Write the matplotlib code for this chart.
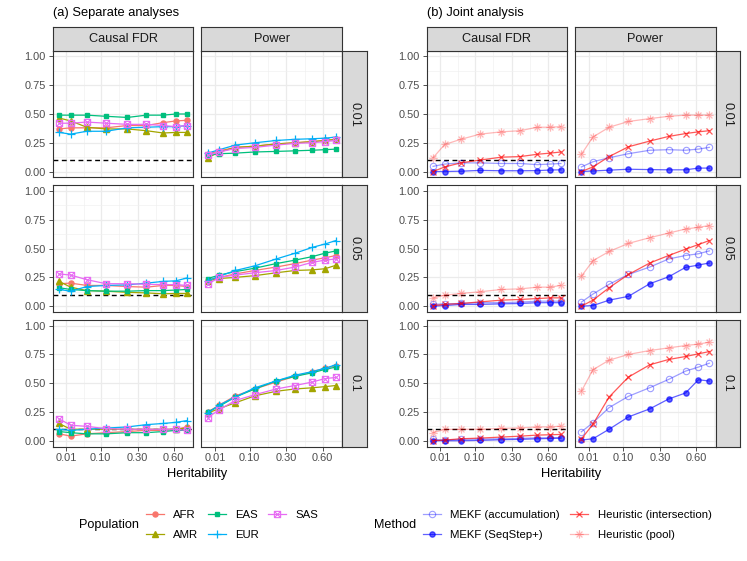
import numpy as np
import matplotlib
matplotlib.use("Agg")
import matplotlib.pyplot as plt
from matplotlib.path import Path
from matplotlib.lines import Line2D

plt.rcParams['font.family'] = ['Liberation Sans', 'DejaVu Sans']

W, H = 747, 561

# x values (heritability) and axis labels
heritability = [0.0029, 0.016, 0.052, 0.122, 0.234, 0.363, 0.502, 0.623, 0.736]
x_ticks = [0.01, 0.10, 0.30, 0.60]
x_tick_labels = ["0.01", "0.10", "0.30", "0.60"]
y_ticks = [0.0, 0.25, 0.5, 0.75, 1.0]
y_tick_labels = ["0.00", "0.25", "0.50", "0.75", "1.00"]
row_labels = ["0.01", "0.05", "0.1"]
col_labels = ["Causal FDR", "Power"]
populations = ["AFR", "AMR", "EAS", "EUR", "SAS"]
methods = ["MEKF (accumulation)", "MEKF (SeqStep+)",
           "Heuristic (intersection)", "Heuristic (pool)"]
fdr_target = 0.1

# (a) separate analyses
sep_fdr_001 = {
    "AFR": [0.37, 0.38, 0.38, 0.38, 0.40, 0.40, 0.425, 0.44, 0.445],
    "AMR": [0.465, 0.44, 0.385, 0.37, 0.37, 0.355, 0.335, 0.34, 0.34],
    "EAS": [0.49, 0.49, 0.49, 0.48, 0.47, 0.49, 0.49, 0.50, 0.50],
    "EUR": [0.34, 0.325, 0.35, 0.35, 0.38, 0.385, 0.39, 0.39, 0.40],
    "SAS": [0.42, 0.42, 0.43, 0.42, 0.41, 0.41, 0.40, 0.39, 0.40],
}
sep_pow_001 = {
    "AFR": [0.15, 0.18, 0.21, 0.22, 0.24, 0.25, 0.26, 0.27, 0.28],
    "AMR": [0.12, 0.17, 0.21, 0.22, 0.24, 0.25, 0.26, 0.27, 0.28],
    "EAS": [0.14, 0.155, 0.16, 0.17, 0.175, 0.18, 0.185, 0.19, 0.195],
    "EUR": [0.16, 0.19, 0.23, 0.25, 0.27, 0.28, 0.285, 0.29, 0.30],
    "SAS": [0.14, 0.17, 0.20, 0.21, 0.23, 0.245, 0.25, 0.26, 0.27],
}
sep_fdr_005 = {
    "AFR": [0.195, 0.20, 0.18, 0.18, 0.17, 0.165, 0.18, 0.18, 0.17],
    "AMR": [0.215, 0.165, 0.135, 0.13, 0.12, 0.115, 0.107, 0.11, 0.11],
    "EAS": [0.16, 0.145, 0.135, 0.13, 0.13, 0.135, 0.135, 0.14, 0.145],
    "EUR": [0.145, 0.13, 0.17, 0.18, 0.185, 0.20, 0.215, 0.22, 0.245],
    "SAS": [0.28, 0.27, 0.23, 0.195, 0.195, 0.19, 0.187, 0.187, 0.18],
}
sep_pow_005 = {
    "AFR": [0.23, 0.25, 0.28, 0.31, 0.34, 0.37, 0.40, 0.42, 0.44],
    "AMR": [0.22, 0.24, 0.25, 0.265, 0.29, 0.31, 0.315, 0.325, 0.355],
    "EAS": [0.24, 0.27, 0.30, 0.33, 0.37, 0.40, 0.43, 0.46, 0.48],
    "EUR": [0.22, 0.26, 0.31, 0.35, 0.41, 0.46, 0.51, 0.54, 0.57],
    "SAS": [0.19, 0.25, 0.27, 0.29, 0.31, 0.34, 0.38, 0.40, 0.41],
}
sep_fdr_01 = {
    "AFR": [0.06, 0.04, 0.06, 0.07, 0.08, 0.09, 0.09, 0.10, 0.12],
    "AMR": [0.15, 0.10, 0.10, 0.10, 0.10, 0.10, 0.10, 0.10, 0.11],
    "EAS": [0.08, 0.07, 0.06, 0.06, 0.07, 0.07, 0.08, 0.09, 0.09],
    "EUR": [0.10, 0.09, 0.10, 0.11, 0.12, 0.14, 0.15, 0.16, 0.175],
    "SAS": [0.19, 0.135, 0.125, 0.105, 0.10, 0.10, 0.10, 0.10, 0.09],
}
sep_pow_01 = {
    "AFR": [0.25, 0.31, 0.39, 0.45, 0.51, 0.56, 0.60, 0.63, 0.65],
    "AMR": [0.24, 0.28, 0.33, 0.39, 0.43, 0.45, 0.46, 0.47, 0.48],
    "EAS": [0.25, 0.30, 0.38, 0.45, 0.52, 0.56, 0.59, 0.62, 0.64],
    "EUR": [0.24, 0.31, 0.38, 0.46, 0.52, 0.57, 0.60, 0.63, 0.66],
    "SAS": [0.20, 0.27, 0.35, 0.40, 0.45, 0.48, 0.51, 0.54, 0.55],
}

# (b) joint analysis
joint_fdr_001 = {
    "MEKF (accumulation)": [0.045, 0.065, 0.075, 0.075, 0.07, 0.07, 0.06, 0.065, 0.07],
    "MEKF (SeqStep+)": [0.0, 0.0, 0.003, 0.01, 0.007, 0.007, 0.008, 0.013, 0.015],
    "Heuristic (intersection)": [0.0, 0.04, 0.075, 0.10, 0.125, 0.13, 0.15, 0.16, 0.17],
    "Heuristic (pool)": [0.12, 0.235, 0.28, 0.325, 0.345, 0.355, 0.385, 0.385, 0.39],
}
joint_pow_001 = {
    "MEKF (accumulation)": [0.04, 0.085, 0.12, 0.155, 0.185, 0.19, 0.185, 0.195, 0.21],
    "MEKF (SeqStep+)": [0.0, 0.005, 0.012, 0.02, 0.017, 0.015, 0.015, 0.03, 0.03],
    "Heuristic (intersection)": [0.0, 0.04, 0.13, 0.215, 0.265, 0.305, 0.33, 0.345, 0.355],
    "Heuristic (pool)": [0.15, 0.30, 0.385, 0.435, 0.46, 0.48, 0.49, 0.49, 0.49],
}
joint_fdr_005 = {
    "MEKF (accumulation)": [0.015, 0.02, 0.023, 0.03, 0.03, 0.035, 0.043, 0.043, 0.043],
    "MEKF (SeqStep+)": [0.0, 0.005, 0.015, 0.015, 0.02, 0.023, 0.03, 0.03, 0.03],
    "Heuristic (intersection)": [0.005, 0.015, 0.023, 0.037, 0.052, 0.058, 0.066, 0.072, 0.072],
    "Heuristic (pool)": [0.07, 0.095, 0.11, 0.125, 0.145, 0.15, 0.165, 0.165, 0.18],
}
joint_pow_005 = {
    "MEKF (accumulation)": [0.035, 0.105, 0.19, 0.275, 0.34, 0.41, 0.44, 0.455, 0.48],
    "MEKF (SeqStep+)": [0.0, 0.005, 0.052, 0.085, 0.195, 0.255, 0.337, 0.357, 0.375],
    "Heuristic (intersection)": [0.0, 0.052, 0.16, 0.275, 0.375, 0.44, 0.495, 0.535, 0.57],
    "Heuristic (pool)": [0.26, 0.395, 0.475, 0.545, 0.595, 0.635, 0.67, 0.685, 0.70],
}
joint_fdr_01 = {
    "MEKF (accumulation)": [0.012, 0.006, 0.012, 0.014, 0.017, 0.02, 0.026, 0.026, 0.026],
    "MEKF (SeqStep+)": [0.0, 0.0, 0.0, 0.003, 0.009, 0.012, 0.017, 0.02, 0.023],
    "Heuristic (intersection)": [0.0, 0.006, 0.017, 0.023, 0.032, 0.04, 0.049, 0.052, 0.055],
    "Heuristic (pool)": [0.07, 0.098, 0.10, 0.10, 0.107, 0.112, 0.12, 0.12, 0.127],
}
joint_pow_01 = {
    "MEKF (accumulation)": [0.078, 0.156, 0.288, 0.386, 0.461, 0.533, 0.605, 0.64, 0.674],
    "MEKF (SeqStep+)": [0.006, 0.017, 0.10, 0.207, 0.277, 0.363, 0.415, 0.53, 0.519],
    "Heuristic (intersection)": [0.015, 0.144, 0.38, 0.553, 0.66, 0.706, 0.732, 0.755, 0.775],
    "Heuristic (pool)": [0.43, 0.617, 0.70, 0.75, 0.784, 0.807, 0.827, 0.84, 0.856],
}

sep_panels = [[sep_fdr_001, sep_pow_001], [sep_fdr_005, sep_pow_005], [sep_fdr_01, sep_pow_01]]
joint_panels = [[joint_fdr_001, joint_pow_001], [joint_fdr_005, joint_pow_005],
                [joint_fdr_01, joint_pow_01]]

# custom markers like ggplot shapes 7 and 8
M, L = Path.MOVETO, Path.LINETO
box_cross = Path([(-1, -1), (1, -1), (1, 1), (-1, 1), (-1, -1), (-1, -1), (1, 1), (-1, 1), (1, -1)],
                 [M, L, L, L, L, M, L, M, L])
d = 0.7071
asterisk = Path([(0, -1), (0, 1), (-1, 0), (1, 0), (-d, -d), (d, d), (-d, d), (d, -d)],
                [M, L, M, L, M, L, M, L])

pop_style = {
    "AFR": dict(color="#F8766D", marker="o", ms=3.6),
    "AMR": dict(color="#A3A500", marker="^", ms=3.9),
    "EAS": dict(color="#00BF7D", marker="s", ms=3.5),
    "EUR": dict(color="#00B0F6", marker="+", ms=5.5, mew=0.9),
    "SAS": dict(color="#E76BF3", marker=box_cross, ms=4.5, mfc="none", mew=0.8),
}
method_style = {
    "MEKF (accumulation)": dict(color=(0, 0, 1, 0.38), marker="o", ms=4.6, mfc="none", mew=0.8),
    "MEKF (SeqStep+)": dict(color=(0, 0, 1, 0.62), marker="o", ms=3.8),
    "Heuristic (intersection)": dict(color=(1, 0, 0, 0.65), marker="x", ms=4.6, mew=0.9),
    "Heuristic (pool)": dict(color=(1, 0, 0, 0.28), marker=asterisk, ms=6.0, mew=0.9),
}

fig = plt.figure(figsize=(W / 100, H / 100), dpi=100)


def rect(x0, x1, y0, y1):
    return [x0 / W, 1 - y1 / H, (x1 - x0) / W, (y1 - y0) / H]


row_y = [(50.7, 177.3), (185.3, 311.9), (319.9, 446.5)]
strip_top = (26.7, 50.7)
blocks = [
    dict(cols=[(52.7, 193.3), (201.3, 342.3)], strip=(342.3, 366.7), data=sep_panels,
         names=populations, styles=pop_style, title="(a) Separate analyses"),
    dict(cols=[(426.7, 567.3), (575.0, 715.7)], strip=(715.7, 740.0), data=joint_panels,
         names=methods, styles=method_style, title="(b) Joint analysis"),
]

# sqrt x scale, limits expanded 5% in transformed space
u = np.sqrt(heritability)
u_lo = u.min() - 0.05 * (u.max() - u.min())
u_hi = u.max() + 0.05 * (u.max() - u.min())
ut = np.sqrt(x_ticks)
step = np.diff(ut)
ext = np.concatenate([[ut[0] - step[0]], ut, [ut[-1] + step[-1]]])
minor = ((ext[:-1] + ext[1:]) / 2)
minor = minor[(minor > u_lo) & (minor < u_hi)] ** 2

border = "#333333"
for b in blocks:
    for r in range(3):
        for c in range(2):
            x0, x1 = b["cols"][c]
            ax = fig.add_axes(rect(x0, x1, *row_y[r]))
            ax.set_xscale("function", functions=(lambda v: np.sqrt(np.clip(v, 0, None)),
                                                  lambda v: v ** 2))
            ax.set_xlim(u_lo ** 2, u_hi ** 2)
            ax.set_ylim(-0.05, 1.05)
            ax.set_xticks(x_ticks)
            ax.set_xticks(minor, minor=True)
            ax.set_yticks(y_ticks)
            ax.set_yticks([0.125, 0.375, 0.625, 0.875], minor=True)
            ax.grid(True, which="major", color="#EBEBEB", lw=0.9, zorder=0)
            ax.grid(True, which="minor", color="#F0F0F0", lw=0.45, zorder=0)
            ax.set_axisbelow(True)
            for s in ax.spines.values():
                s.set_color(border)
                s.set_linewidth(0.8)
            ax.tick_params(which="minor", length=0)
            ax.tick_params(which="major", length=3, width=0.6, color=border,
                           labelsize=7.9, labelcolor="#4D4D4D", pad=2)
            if r == 2:
                ax.set_xticklabels(x_tick_labels)
            else:
                ax.tick_params(axis="x", which="major", length=0, labelbottom=False)
            if c == 0:
                ax.set_yticklabels(y_tick_labels)
            else:
                ax.tick_params(axis="y", which="major", length=0, labelleft=False)
            if c == 0:
                ax.axhline(fdr_target, color="black", lw=1.0, ls=(0, (3.5, 2.5)), zorder=1)
            panel = b["data"][r][c]
            for name in b["names"]:
                st = dict(b["styles"][name])
                ax.plot(heritability, panel[name], lw=0.9, zorder=3, clip_on=False, **st)
        # right strip
        sx0, sx1 = b["strip"]
        sax = fig.add_axes(rect(sx0, sx1, *row_y[r]))
        sax.set_facecolor("#D9D9D9")
        sax.set_xticks([])
        sax.set_yticks([])
        for s in sax.spines.values():
            s.set_color(border)
            s.set_linewidth(0.8)
        sax.text(0.5, 0.5, row_labels[r], rotation=-90, ha="center", va="center",
                 fontsize=9.2, color="#1A1A1A", transform=sax.transAxes)
    for c in range(2):
        x0, x1 = b["cols"][c]
        sax = fig.add_axes(rect(x0, x1, *strip_top))
        sax.set_facecolor("#D9D9D9")
        sax.set_xticks([])
        sax.set_yticks([])
        for s in sax.spines.values():
            s.set_color(border)
            s.set_linewidth(0.8)
        sax.text(0.5, 0.5, col_labels[c], ha="center", va="center",
                 fontsize=9.2, color="#1A1A1A", transform=sax.transAxes)
    fig.text(b["cols"][0][0] / W, 1 - 12.7 / H, b["title"], ha="left", va="center",
             fontsize=9.3, color="black")
    xm = (b["cols"][0][0] + b["cols"][1][1]) / 2
    fig.text(xm / W, 1 - 474 / H, "Heritability", ha="center", va="center",
             fontsize=9.3, color="black")

# legends
pop_handles = [Line2D([], [], lw=0.9, **pop_style[p]) for p in populations]
leg1 = fig.legend(pop_handles, populations, ncol=3, loc="center left",
                  bbox_to_anchor=(146 / W, 1 - 525 / H), frameon=False,
                  fontsize=8.2, handlelength=1.6, handletextpad=0.8,
                  columnspacing=0.8, labelspacing=0.95, borderpad=0, borderaxespad=0)
fig.text(79 / W, 1 - 525 / H, "Population", ha="left", va="center", fontsize=9.1)

met_handles = [Line2D([], [], lw=0.9, **method_style[m]) for m in methods]
leg2 = fig.legend(met_handles, methods, ncol=2, loc="center left",
                  bbox_to_anchor=(423 / W, 1 - 525 / H), frameon=False,
                  fontsize=8.2, handlelength=1.6, handletextpad=0.8,
                  columnspacing=0.9, labelspacing=0.95, borderpad=0, borderaxespad=0)
fig.text(374 / W, 1 - 525 / H, "Method", ha="left", va="center", fontsize=9.1)

fig.savefig("out.png", dpi=100)
